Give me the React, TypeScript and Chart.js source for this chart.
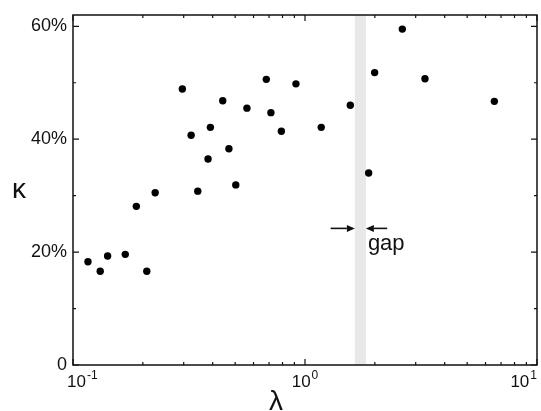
import React, { useEffect, useRef } from 'react';
import { Chart, registerables } from 'chart.js';

Chart.register(...registerables);

// λ values (x, log scale)
const LAMBDA = [0.116, 0.131, 0.141, 0.168, 0.208, 0.1875, 0.226, 0.296, 0.323, 0.345, 0.382, 0.391, 0.442, 0.47, 0.503, 0.562, 0.681, 0.713, 0.791, 0.914, 1.175, 1.568, 1.881, 1.996, 2.627, 3.29, 6.55];
// κ values in percent
const KAPPA = [18.3, 16.6, 19.3, 19.6, 16.6, 28.1, 30.5, 48.9, 40.7, 30.8, 36.5, 42.1, 46.8, 38.3, 31.9, 45.5, 50.6, 44.7, 41.4, 49.8, 42.1, 46.0, 34.0, 51.8, 59.5, 50.7, 46.7];

const GAP_RANGE = [1.64, 1.83];
const ARROW_LEVEL = 24.2;
const ARROW_TAILS = [1.29, 2.26];
const GAP_LABEL = 'gap';

const X_MAJOR = [0.1, 1, 10];
const X_EXPONENTS = ['-1', '0', '1'];
const X_MINOR = [0.2, 0.3, 0.4, 0.5, 0.6, 0.7, 0.8, 0.9, 2, 3, 4, 5, 6, 7, 8, 9];
const Y_MAJOR = [0, 20, 40, 60];
const Y_LABELS = ['0', '20%', '40%', '60%'];
const Y_MINOR = [10, 30, 50];
const X_TITLE = 'λ';
const Y_TITLE = 'κ';

const FONT = '"Liberation Sans", Arial, Helvetica, sans-serif';
const INK = '#111';

const decor = {
  id: 'decor',
  beforeDatasetsDraw(chart: any) {
    const { ctx, chartArea: a, scales } = chart;
    const x = scales.x;
    const g0 = x.getPixelForValue(GAP_RANGE[0]);
    const g1 = x.getPixelForValue(GAP_RANGE[1]);
    ctx.save();
    ctx.fillStyle = '#e8e8e8';
    ctx.fillRect(g0, a.top, g1 - g0, a.bottom - a.top);
    ctx.restore();
  },
  afterDatasetsDraw(chart: any) {
    const { ctx, chartArea: a, scales } = chart;
    const x = scales.x;
    const y = scales.y;
    ctx.save();
    // frame
    ctx.strokeStyle = INK;
    ctx.lineWidth = 1.5;
    ctx.strokeRect(a.left, a.top, a.right - a.left, a.bottom - a.top);
    // ticks
    ctx.lineWidth = 1.2;
    ctx.beginPath();
    const xt = (v: number, len: number) => {
      const px = x.getPixelForValue(v);
      ctx.moveTo(px, a.bottom); ctx.lineTo(px, a.bottom - len);
      ctx.moveTo(px, a.top); ctx.lineTo(px, a.top + len);
    };
    const yt = (v: number, len: number) => {
      const py = y.getPixelForValue(v);
      ctx.moveTo(a.left, py); ctx.lineTo(a.left + len, py);
      ctx.moveTo(a.right, py); ctx.lineTo(a.right - len, py);
    };
    X_MAJOR.forEach((v) => xt(v, 6));
    X_MINOR.forEach((v) => xt(v, 3));
    Y_MAJOR.forEach((v) => yt(v, 6));
    Y_MINOR.forEach((v) => yt(v, 3));
    ctx.stroke();

    // x tick labels with superscript exponents
    ctx.fillStyle = INK;
    ctx.textBaseline = 'alphabetic';
    ctx.textAlign = 'left';
    X_MAJOR.forEach((v, i) => {
      const px = x.getPixelForValue(v);
      ctx.font = `17px ${FONT}`;
      const wb = ctx.measureText('10').width;
      ctx.font = `12px ${FONT}`;
      const we = ctx.measureText(X_EXPONENTS[i]).width;
      const w = wb + we + 1;
      let x0 = px - w / 2;
      x0 = Math.max(a.left - 6, Math.min(a.right - w, x0));
      const base = a.bottom + 22;
      ctx.font = `17px ${FONT}`;
      ctx.fillText('10', x0, base);
      ctx.font = `12px ${FONT}`;
      ctx.fillText(X_EXPONENTS[i], x0 + wb + 1, base - 8);
    });

    // arrows
    const ay = y.getPixelForValue(ARROW_LEVEL);
    const arrow = (fromV: number, toV: number) => {
      const fx = x.getPixelForValue(fromV);
      const tx = x.getPixelForValue(toV);
      const dir = Math.sign(tx - fx);
      const head = 8;
      ctx.lineWidth = 1.6;
      ctx.beginPath();
      ctx.moveTo(fx, ay);
      ctx.lineTo(tx - dir * head, ay);
      ctx.stroke();
      ctx.beginPath();
      ctx.moveTo(tx, ay);
      ctx.lineTo(tx - dir * head, ay - 3.5);
      ctx.lineTo(tx - dir * head, ay + 3.5);
      ctx.closePath();
      ctx.fill();
    };
    arrow(ARROW_TAILS[0], GAP_RANGE[0]);
    arrow(ARROW_TAILS[1], GAP_RANGE[1]);

    // gap label
    ctx.font = `22px ${FONT}`;
    ctx.textAlign = 'left';
    ctx.fillText(GAP_LABEL, x.getPixelForValue(GAP_RANGE[1]) + 2, ay + 22);

    // axis titles
    ctx.font = `28px ${FONT}`;
    ctx.textAlign = 'center';
    ctx.fillText(X_TITLE, 276, 410);
    ctx.fillText(Y_TITLE, 19, 198);
    ctx.restore();
  },
};

export default function App() {
  const ref = useRef<HTMLCanvasElement | null>(null);
  useEffect(() => {
    if (!ref.current) return;
    const chart = new Chart(ref.current, {
      type: 'scatter',
      data: {
        datasets: [
          {
            data: LAMBDA.map((v, i) => ({ x: v, y: KAPPA[i] })),
            backgroundColor: '#000',
            borderWidth: 0,
            pointRadius: 3.7,
            pointHoverRadius: 3.7,
          },
        ],
      },
      options: {
        animation: false,
        responsive: false,
        devicePixelRatio: 1,
        layout: { padding: { top: 15, right: 4, left: 0, bottom: 0 } },
        plugins: { legend: { display: false }, tooltip: { enabled: false } },
        scales: {
          x: {
            type: 'logarithmic',
            min: 0.1,
            max: 10,
            grid: { display: false },
            border: { display: false },
            ticks: { display: false },
            afterFit: (s: any) => {
              s.height = 46;
              s.paddingLeft = 0;
              s.paddingRight = 0;
            },
          },
          y: {
            type: 'linear',
            min: 0,
            max: 62,
            grid: { display: false, drawTicks: false },
            border: { display: false },
            ticks: {
              stepSize: 10,
              includeBounds: false,
              autoSkip: false,
              padding: 6,
              color: INK,
              font: { size: 18, family: FONT },
              callback: (v: any) => {
                const k = Y_MAJOR.indexOf(Number(v));
                return k >= 0 ? Y_LABELS[k] : '';
              },
            },
            afterFit: (s: any) => {
              s.width = 73;
              s.paddingTop = 0;
              s.paddingBottom = 0;
            },
          },
        },
      },
      plugins: [decor],
    } as any);
    return () => chart.destroy();
  }, []);
  return (
    <div style={{ position: 'fixed', left: 0, top: 0, width: 541, height: 411, background: '#fff' }}>
      <canvas ref={ref} width={541} height={411} />
    </div>
  );
}
